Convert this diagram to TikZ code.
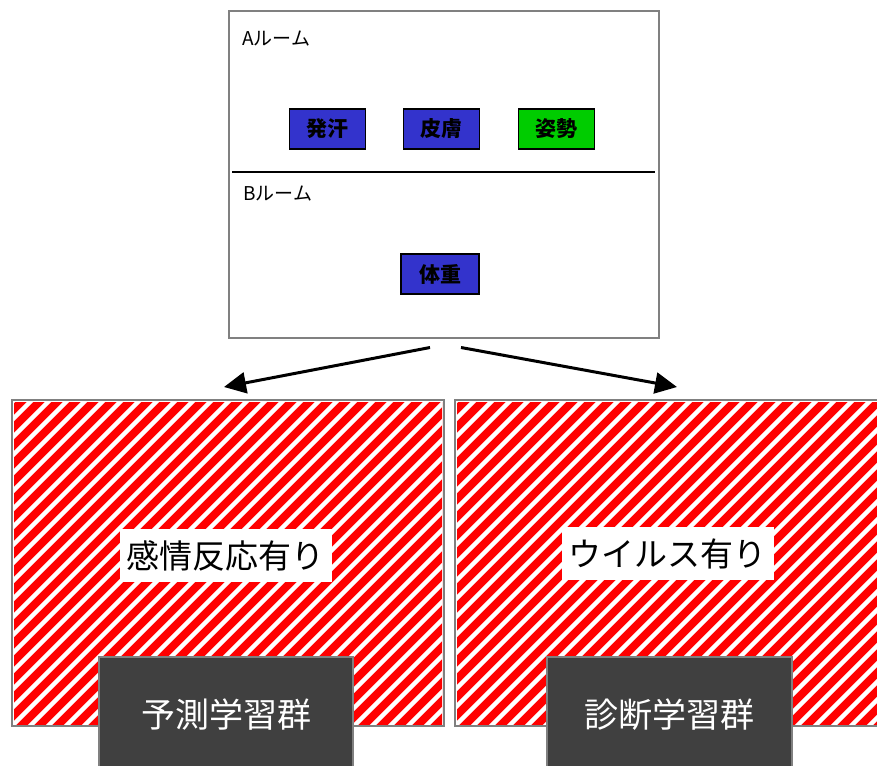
\documentclass[tikz,border=0pt]{standalone}
\usepackage{fontspec}
\newfontfamily\jpfont{Noto Sans CJK JP}
\usetikzlibrary{arrows.meta}
\definecolor{framegray}{RGB}{128,128,128}
\definecolor{sensorblue}{RGB}{51,51,204}
\definecolor{sensorgreen}{RGB}{0,204,0}
\definecolor{hatchred}{RGB}{255,0,0}
\definecolor{groupdark}{RGB}{64,64,64}
\tikzset{
  frame/.style={draw=framegray, line width=2pt},
  roomlabel/.style={anchor=west, inner sep=0pt, font=\jpfont\fontsize{19}{19}\selectfont},
  sensor/.style={
    draw=black, line width=1.5pt, fill=sensorblue,
    minimum width=76pt, minimum height=40pt, inner sep=0pt,
    font=\jpfont\bfseries\fontsize{21}{21}\selectfont
  },
  sensor-green/.style={sensor, fill=sensorgreen},
  result/.style={
    fill=white, inner xsep=7pt, inner ysep=0pt, minimum height=53pt,
    font=\jpfont\fontsize{33}{33}\selectfont
  },
  group/.style={
    frame, fill=groupdark, text=white, minimum height=118pt,
    font=\jpfont\fontsize{34}{34}\selectfont
  },
  split/.style={line width=3pt, -{Triangle[length=22pt, width=21pt]}}
}
% striped red panel: #1,#2 top left, #3,#4 bottom right
\newcommand{\stripebox}[4]{
  \fill[white] (#1,#2) rectangle (#3,#4);
  \begin{scope}
    \clip (#1+3,#2+3) rectangle (#3-3,#4-3);
    \fill[hatchred] (#1,#2) rectangle (#3,#4);
    \foreach \k in {-360,-342,...,450}
      \draw[white, line width=4.5pt] (#1+\k,#4) -- ++(380,-380);
  \end{scope}
  \draw[frame] (#1+1,#2+1) rectangle (#3-1,#4-1);
}

\begin{document}
\begin{tikzpicture}[x=1pt, y=-1pt]
  \useasboundingbox (0,0) rectangle (877,765);
  % rooms with their sensors
  \node[frame, minimum width=430pt, minimum height=326pt] (rooms) at (444,174.5) {};
  \draw[black, line width=2pt] (232,172) -- (655,172);
  \node[roomlabel] (roomA) at (242,39) {Aルーム};
  \node[roomlabel] (roomB) at (243,194) {Bルーム};
  \node[sensor] (sweat) at (327.5,129) {発汗};
  \node[sensor] (skin) at (441.5,129) {皮膚};
  \node[sensor-green] (posture) at (556.5,129) {姿勢};
  \node[sensor, minimum width=78pt] (weight) at (440,274) {体重};
  % two learning groups
  \stripebox{11}{399}{445}{727}
  \stripebox{454}{399}{890}{727}
  \node[result] (emotion) at (225.5,555.5) {感情反応有り};
  \node[result] (virus) at (667.5,553.5) {ウイルス有り};
  \node[group, minimum width=254pt] (predict) at (226,716) {\raisebox{5pt}{予測学習群}};
  \node[group, minimum width=245pt] (diagnose) at (669.5,716) {\raisebox{5pt}{診断学習群}};
  % arrows to the groups
  \coordinate (outL) at ([shift={(-14,9)}]rooms.south);
  \coordinate (outR) at ([shift={(17,9)}]rooms.south);
  \coordinate (inL) at (224,387);
  \coordinate (inR) at (677,387);
  \draw[split] (outL) -- (inL);
  \draw[split] (outR) -- (inR);
\end{tikzpicture}
\end{document}
